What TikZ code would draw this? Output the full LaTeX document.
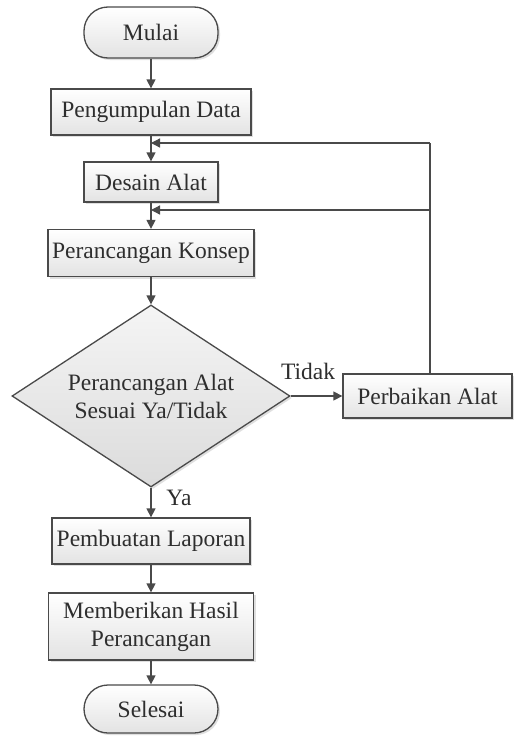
\documentclass[tikz,border=0pt]{standalone}
\usepackage{fontspec}
\setmainfont{Liberation Serif}
\usetikzlibrary{arrows.meta,shadows,shapes.geometric}
\definecolor{ln}{HTML}{4A4A4A}
\definecolor{tx}{HTML}{2E2E2E}
\begin{document}
\begin{tikzpicture}[x=1pt,y=-1pt,
  base/.style={draw=ln, line width=1.3pt, inner sep=0pt, align=center,
    font=\fontsize{23.5}{28}\selectfont, text=tx,
    drop shadow={shadow xshift=2pt,shadow yshift=-2pt,fill=black!35,opacity=0.35}},
  procbox/.style={base, rectangle, top color=white, bottom color=black!11},
  termbox/.style={base, rectangle, rounded corners=24pt, top color=white, bottom color=black!11},
  decbox/.style={base, diamond, aspect=1.53, top color=black!4, bottom color=black!14},
  arr/.style={draw=ln, line width=1.3pt, -{Triangle[length=9pt,width=9pt]}},
  plain/.style={draw=ln, line width=1.3pt},
  lbl/.style={font=\fontsize{23.5}{28}\selectfont, text=tx, inner sep=0pt}]
\useasboundingbox (0,0) rectangle (515,736);
\fill[white] (0,0) rectangle (515,736);

\node[termbox, minimum width=134pt, minimum height=51pt] (mulai) at (151,32.5) {Mulai};
\node[procbox, minimum width=200pt, minimum height=46pt] (peng) at (151,112) {Pengumpulan Data};
\node[procbox, minimum width=134pt, minimum height=40pt] (desain) at (151,182) {Desain Alat};
\node[procbox, minimum width=206pt, minimum height=47pt] (konsep) at (151,253) {Perancangan Konsep};
\node[decbox, minimum width=278pt, minimum height=182pt] (dec) at (151,396) {Perancangan Alat\\Sesuai Ya/Tidak};
\node[procbox, minimum width=169pt, minimum height=44pt] (perb) at (427.5,396) {Perbaikan Alat};
\node[procbox, minimum width=198pt, minimum height=46pt] (lap) at (151,541) {Pembuatan Laporan};
\node[procbox, minimum width=205pt, minimum height=67pt] (hasil) at (151,626.5) {Memberikan Hasil\\Perancangan};
\node[termbox, minimum width=134pt, minimum height=48pt] (selesai) at (151,709) {Selesai};

\node[lbl] (tidak) at (308,371) {Tidak};
\node[lbl] (ya) at (179,498) {Ya};

\coordinate (c1) at (430,143);
\coordinate (c2) at (430,210);

\draw[arr] (mulai.south) -- (peng.north);
\draw[arr] (peng.south) -- (desain.north);
\draw[arr] (desain.south) -- (konsep.north);
\draw[arr] (konsep.south) -- (dec.north);
\draw[arr] (dec.east) -- (perb.west);
\draw[arr] (dec.south) -- (lap.north);
\draw[arr] (lap.south) -- (hasil.north);
\draw[arr] (hasil.south) -- (selesai.north);

\draw[plain] (perb.north -| c1) -- (c2) -- (c1);
\draw[arr] (c1) -- (c1 -| peng.south);
\draw[arr] (c2) -- (c2 -| desain.south);
\end{tikzpicture}
\end{document}
